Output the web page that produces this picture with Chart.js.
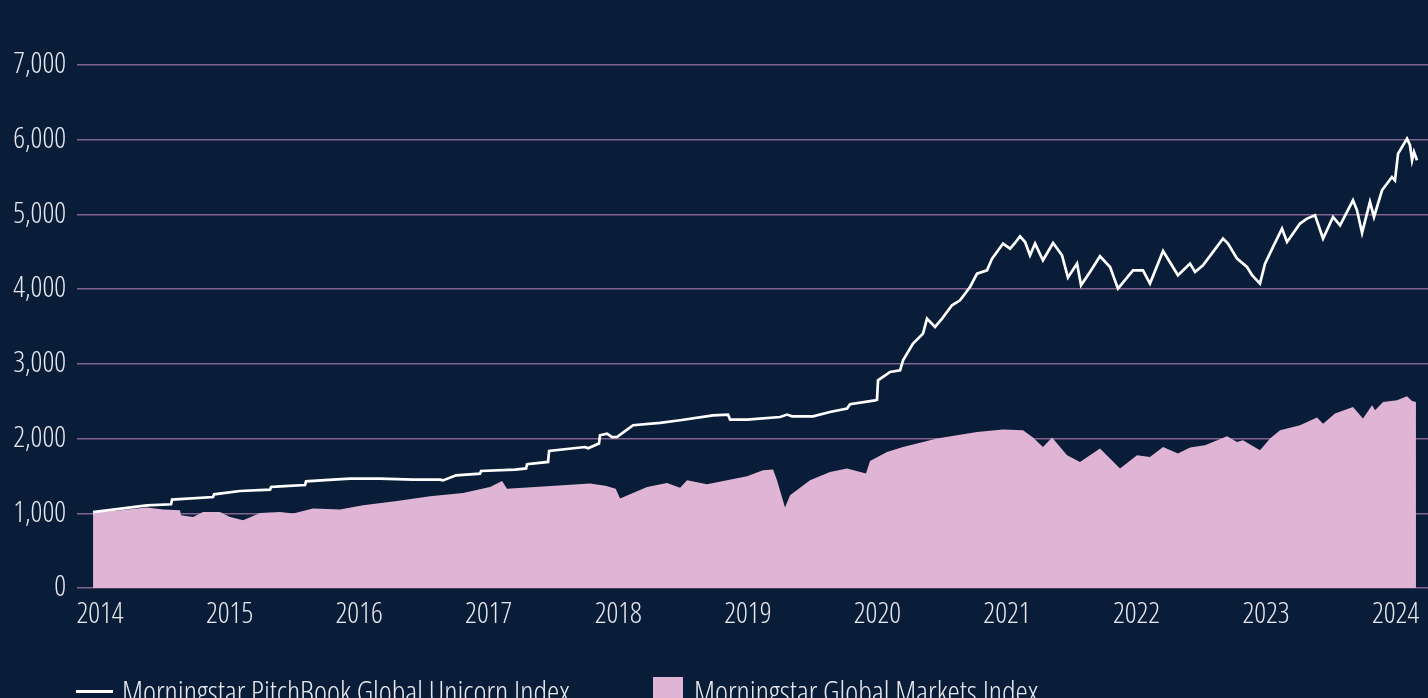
<!DOCTYPE html>
<html>
<head>
<meta charset="utf-8">
<script src="https://cdn.jsdelivr.net/npm/chart.js@4.4.1/dist/chart.umd.min.js"></script>
<style>
  html, body { margin: 0; padding: 0; background: #0a1d38; overflow: hidden; }
  #wrap { position: relative; width: 1428px; height: 698px; overflow: hidden; }
  canvas { display: block; }
  .lg-line { position: absolute; left: 76px; top: 690px; width: 37px; height: 2.5px; background: #ffffff; }
  .lg-box { position: absolute; left: 653px; top: 677px; width: 30px; height: 30px; background: #dfb4d4; }
  .lg-text { position: absolute; top: 676px; line-height: 31px; font-size: 31px; color: #e8e8ee; white-space: nowrap;
             font-family: 'Open Sans', sans-serif; font-stretch: 75%; font-weight: 300; }
</style>
</head>
<body>
<div id="wrap">
  <canvas id="chart" width="1428" height="698"></canvas>
  <div class="lg-line"></div>
  <div class="lg-text" id="lg-unicorn" style="left:122px"></div>
  <div class="lg-box"></div>
  <div class="lg-text" id="lg-global" style="left:694px"></div>
</div>
<script>
// Morningstar PitchBook Global Unicorn Index (x = decimal year)
const unicornYears = [
  2013.946, 2014.178, 2014.363, 2014.548, 2014.556, 2014.872, 2014.880, 2015.081, 2015.312, 2015.320,
  2015.389, 2015.582, 2015.590, 2015.798, 2015.930, 2016.161, 2016.416, 2016.624, 2016.647, 2016.748,
  2016.933, 2016.941, 2017.203, 2017.288, 2017.296, 2017.458, 2017.466, 2017.743, 2017.767, 2017.851,
  2017.859, 2017.913, 2017.952, 2017.990, 2018.068, 2018.114, 2018.322, 2018.477, 2018.731, 2018.847,
  2018.863, 2018.994, 2019.249, 2019.303, 2019.341, 2019.503, 2019.634, 2019.766, 2019.789, 2019.982,
  2019.997, 2020.005, 2020.098, 2020.175, 2020.198, 2020.275, 2020.352, 2020.383, 2020.445, 2020.499,
  2020.576, 2020.638, 2020.715, 2020.769, 2020.846, 2020.885, 2020.970, 2021.024, 2021.062, 2021.101,
  2021.140, 2021.178, 2021.217, 2021.278, 2021.356, 2021.425, 2021.471, 2021.541, 2021.572, 2021.641,
  2021.718, 2021.796, 2021.857, 2021.973, 2022.050, 2022.104, 2022.205, 2022.320, 2022.413, 2022.452,
  2022.513, 2022.591, 2022.668, 2022.706, 2022.776, 2022.853, 2022.892, 2022.953, 2022.992, 2023.054,
  2023.123, 2023.162, 2023.208, 2023.262, 2023.316, 2023.378, 2023.440, 2023.517, 2023.571, 2023.671,
  2023.702, 2023.741, 2023.802, 2023.833, 2023.895, 2023.972, 2023.995, 2024.019, 2024.088, 2024.111,
  2024.127, 2024.142, 2024.165
];
const unicornValues = [
  1015, 1065, 1105, 1120, 1183, 1218, 1254, 1298, 1317, 1352,
  1361, 1378, 1428, 1451, 1464, 1464, 1451, 1451, 1440, 1508,
  1531, 1566, 1585, 1600, 1656, 1687, 1834, 1887, 1870, 1933,
  2044, 2066, 2020, 2021, 2120, 2178, 2209, 2245, 2311, 2321,
  2254, 2254, 2289, 2321, 2298, 2298, 2356, 2401, 2459, 2512,
  2520, 2780, 2891, 2914, 3048, 3271, 3405, 3606, 3494, 3606,
  3784, 3851, 4029, 4208, 4252, 4409, 4610, 4543, 4618, 4707,
  4631, 4453, 4610, 4386, 4618, 4453, 4155, 4342, 4052, 4230,
  4440, 4297, 4007, 4252, 4252, 4074, 4511, 4186, 4342, 4230,
  4319, 4498, 4677, 4610, 4409, 4297, 4186, 4074, 4342, 4565,
  4811, 4631, 4744, 4878, 4944, 4989, 4677, 4966, 4855, 5189,
  5055, 4752, 5167, 4966, 5323, 5501, 5457, 5814, 6015, 5926,
  5725, 5836, 5725
];

// Morningstar Global Markets Index
const globalYears = [
  2013.946, 2014.100, 2014.363, 2014.486, 2014.617, 2014.625, 2014.718, 2014.795, 2014.926, 2015.003,
  2015.104, 2015.235, 2015.389, 2015.490, 2015.644, 2015.852, 2016.030, 2016.292, 2016.547, 2016.802,
  2017.010, 2017.103, 2017.141, 2017.450, 2017.782, 2017.900, 2017.980, 2018.014, 2018.222, 2018.376,
  2018.477, 2018.531, 2018.685, 2018.839, 2018.994, 2019.117, 2019.195, 2019.225, 2019.287, 2019.326,
  2019.480, 2019.634, 2019.766, 2019.912, 2019.943, 2020.074, 2020.198, 2020.460, 2020.769, 2020.970,
  2021.124, 2021.201, 2021.278, 2021.348, 2021.464, 2021.564, 2021.718, 2021.873, 2022.004, 2022.104,
  2022.205, 2022.320, 2022.413, 2022.529, 2022.699, 2022.776, 2022.822, 2022.953, 2023.031, 2023.108,
  2023.262, 2023.393, 2023.440, 2023.532, 2023.671, 2023.748, 2023.818, 2023.841, 2023.903, 2024.011,
  2024.088, 2024.127, 2024.157
];
const globalValues = [
  1017, 1031, 1076, 1049, 1040, 973, 950, 1017, 1017, 950,
  906, 1004, 1017, 996, 1063, 1049, 1107, 1164, 1227, 1272,
  1352, 1432, 1330, 1361, 1397, 1370, 1330, 1197, 1352, 1405,
  1343, 1441, 1388, 1441, 1495, 1575, 1585, 1441, 1076, 1241,
  1441, 1553, 1598, 1531, 1700, 1820, 1887, 2000, 2088, 2120,
  2111, 2013, 1887, 2013, 1776, 1687, 1866, 1598, 1776, 1754,
  1887, 1799, 1879, 1910, 2031, 1954, 1977, 1843, 2000, 2111,
  2178, 2281, 2200, 2334, 2423, 2267, 2445, 2379, 2490, 2512,
  2566, 2503, 2490
];

const seriesLabels = ['Morningstar PitchBook Global Unicorn Index', 'Morningstar Global Markets Index'];
const yearTicks = [2014, 2015, 2016, 2017, 2018, 2019, 2020, 2021, 2022, 2023, 2024];
const valueTicks = [0, 1000, 2000, 3000, 4000, 5000, 6000, 7000];

// light condensed face of the variable Open Sans
const FONT = { family: "'Open Sans', sans-serif", size: 29, weight: '300 condensed' };
const TEXT = '#e8e8ee';
const PINK = '#dfb4d4';

const toPoints = (xs, ys) => xs.map((x, i) => ({ x: x, y: ys[i] }));

const ctx = document.getElementById('chart').getContext('2d');
new Chart(ctx, {
    type: 'line',
    data: {
        datasets: [{
            label: seriesLabels[0],
            data: toPoints(unicornYears, unicornValues),
            borderColor: '#ffffff',
            borderWidth: 2.7,
            pointRadius: 0,
            tension: 0,
            fill: false
        }, {
            label: seriesLabels[1],
            data: toPoints(globalYears, globalValues),
            borderColor: 'rgba(0,0,0,0)',
            borderWidth: 0,
            backgroundColor: PINK,
            pointRadius: 0,
            tension: 0,
            fill: 'origin'
        }]
    },
    options: {
        responsive: false,
        animation: false,
        devicePixelRatio: 1,
        layout: { padding: { top: 65, left: 0, right: 0, bottom: 0 } },
        plugins: {
            legend: { display: false },
            tooltip: { enabled: false }
        },
        scales: {
            x: {
                type: 'linear',
                min: 2013.822,
                max: 2024.25,
                afterBuildTicks: (scale) => { scale.ticks = yearTicks.map(v => ({ value: v })); },
                afterFit: (scale) => { scale.height = 110; scale.paddingLeft = 0; scale.paddingRight = 0; },
                ticks: {
                    color: TEXT,
                    font: FONT,
                    padding: 9,
                    maxRotation: 0,
                    autoSkip: false,
                    callback: (v) => String(v)
                },
                grid: { display: false, drawTicks: false },
                border: { display: false }
            },
            y: {
                min: 0,
                max: 7000,
                z: 1,
                afterBuildTicks: (scale) => { scale.ticks = valueTicks.map(v => ({ value: v })); },
                afterFit: (scale) => { scale.width = 77; },
                ticks: {
                    color: TEXT,
                    font: FONT,
                    padding: 11,
                    callback: (v) => v.toLocaleString('en-US')
                },
                grid: { color: 'rgba(205,140,195,0.62)', lineWidth: 1.5, drawTicks: false },
                border: { display: false }
            }
        }
    }
});

// Legend labels
document.getElementById('lg-unicorn').textContent = seriesLabels[0];
document.getElementById('lg-global').textContent = seriesLabels[1];
</script>
</body>
</html>
